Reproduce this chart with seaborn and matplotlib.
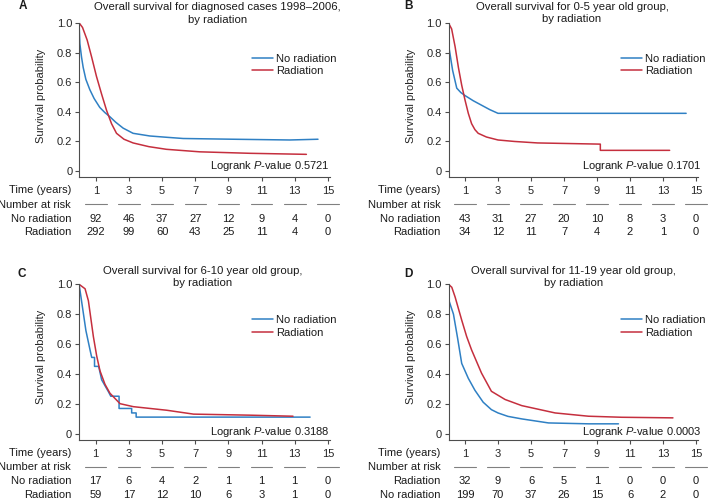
import numpy as np
import pandas as pd
import matplotlib
matplotlib.use("Agg")
import matplotlib.pyplot as plt
import matplotlib.transforms as mtransforms
import seaborn as sns

# survival curves (time in years, survival probability)
a_no_t = [0, 0.04, 0.14, 0.24, 0.4, 0.64, 0.9, 1.24, 1.55, 1.85, 2.2, 2.65, 3.25, 4.26, 5.3, 6.27, 9.3, 12.7, 14.4]
a_no_s = [0.975, 0.86, 0.77, 0.70, 0.62, 0.55, 0.49, 0.43, 0.395, 0.367, 0.33, 0.29, 0.255, 0.237, 0.228, 0.22, 0.215, 0.21, 0.215]
a_rad_t = [0, 0.2, 0.48, 0.75, 1.04, 1.35, 1.65, 1.95, 2.25, 2.7, 3.25, 4.2, 5.26, 7.27, 10.3, 13.7]
a_rad_s = [1.0, 0.97, 0.885, 0.77, 0.64, 0.52, 0.41, 0.32, 0.255, 0.215, 0.19, 0.165, 0.147, 0.13, 0.12, 0.113]

b_no_t = [0.05, 0.25, 0.5, 0.75, 1.0, 1.5, 2.0, 2.5, 3.0, 14.4]
b_no_s = [0.82, 0.68, 0.56, 0.53, 0.51, 0.475, 0.445, 0.415, 0.39, 0.39]
b_rad_t = [0, 0.19, 0.4, 0.6, 0.8, 1.0, 1.2, 1.4, 1.6, 1.8, 2.3, 3.0, 4.0, 5.4, 9.2, 9.2, 13.4]
b_rad_s = [1.0, 0.96, 0.84, 0.70, 0.58, 0.48, 0.39, 0.32, 0.28, 0.255, 0.23, 0.21, 0.20, 0.19, 0.182, 0.14, 0.14]

c_no_t = [0, 0.41, 0.66, 0.76, 0.93, 0.93, 1.18, 1.36, 1.77, 1.91, 2.41, 2.41, 3.17, 3.17, 3.44, 3.44, 13.93]
c_no_s = [1.0, 0.69, 0.56, 0.51, 0.51, 0.45, 0.45, 0.36, 0.28, 0.25, 0.25, 0.168, 0.168, 0.138, 0.138, 0.11, 0.11]
c_rad_t = [0, 0.36, 0.56, 0.86, 1.06, 1.26, 1.56, 1.86, 2.47, 3.27, 5.29, 6.9, 10.3, 12.9]
c_rad_s = [1.0, 0.97, 0.89, 0.65, 0.52, 0.42, 0.33, 0.27, 0.20, 0.18, 0.156, 0.13, 0.123, 0.116]

d_no_t = [0, 0.3, 0.55, 0.8, 1.2, 1.6, 2.1, 2.6, 3.0, 3.6, 4.44, 6.06, 8.5, 10.3]
d_no_s = [0.90, 0.80, 0.64, 0.47, 0.37, 0.29, 0.21, 0.16, 0.138, 0.115, 0.098, 0.071, 0.065, 0.065]
d_rad_t = [0, 0.2, 0.4, 0.8, 1.1, 1.4, 2.0, 2.6, 3.43, 4.44, 6.46, 8.48, 10.5, 13.6]
d_rad_s = [1.0, 0.98, 0.915, 0.76, 0.65, 0.56, 0.405, 0.283, 0.228, 0.187, 0.138, 0.116, 0.109, 0.105]

# number at risk tables
risk_times = [1, 3, 5, 7, 9, 11, 13, 15]
a_risk = [("No radiation", [92, 46, 37, 27, 12, 9, 4, 0]), ("Radiation", [292, 99, 60, 43, 25, 11, 4, 0])]
b_risk = [("No radiation", [43, 31, 27, 20, 10, 8, 3, 0]), ("Radiation", [34, 12, 11, 7, 4, 2, 1, 0])]
c_risk = [("No radiation", [17, 6, 4, 2, 1, 1, 1, 0]), ("Radiation", [59, 17, 12, 10, 6, 3, 1, 0])]
d_risk = [("Radiation", [32, 9, 6, 5, 1, 0, 0, 0]), ("No radiation", [199, 70, 37, 26, 15, 6, 2, 0])]

titles = ["Overall survival for diagnosed cases 1998\u20132006,\nby radiation",
          "Overall survival for 0-5 year old group,\nby radiation",
          "Overall survival for 6-10 year old group,\nby radiation",
          "Overall survival for 11-19 year old group,\nby radiation"]
pvalues = ["0.5721", "0.1701", "0.3188", "0.0003"]
letters = ["A", "B", "C", "D"]

BLUE = "#2f80c4"
RED = "#c52f3e"
AXC = "#4d4d4d"

sns.set_style("ticks")
plt.rcParams["font.family"] = ["Liberation Sans", "DejaVu Sans"]
plt.rcParams["font.size"] = 8
plt.rcParams["mathtext.fontset"] = "custom"
plt.rcParams["mathtext.rm"] = "Liberation Sans"
plt.rcParams["mathtext.it"] = "Liberation Sans:italic"
plt.rcParams["text.color"] = "#1a1a1a"

W, H = 709, 498
fig = plt.figure(figsize=(W / 100, H / 100), dpi=100)


def add_ax(left, top, right, bottom):
    return fig.add_axes([left / W, 1 - bottom / H, (right - left) / W, (bottom - top) / H])


boxes = [(79.2, 23, 329.6, 177), (448.5, 23, 697.7, 177),
         (79.1, 284.3, 329.5, 439.5), (448.5, 284.3, 697.7, 439.5)]
title_pos = [(217.5, 13.5), (572, 12.7), (202.5, 276.7), (573.8, 276.7)]
letter_pos = [(18.3, 6.3), (404.3, 6.3), (17.3, 274), (404.3, 274)]
pval_pos = [(1.0, 0.073), (1.016, 0.073), (1.0, 0.046), (1.016, 0.05)]
curves = [(a_no_t, a_no_s, a_rad_t, a_rad_s), (b_no_t, b_no_s, b_rad_t, b_rad_s),
          (c_no_t, c_no_s, c_rad_t, c_rad_s), (d_no_t, d_no_s, d_rad_t, d_rad_s)]
risks = [a_risk, b_risk, c_risk, d_risk]

for i in range(4):
    ax = add_ax(*boxes[i])
    ax_h = boxes[i][3] - boxes[i][1]
    ax_w = boxes[i][2] - boxes[i][0]
    no_t, no_s, rad_t, rad_s = curves[i]
    df = pd.concat([
        pd.DataFrame({"time": no_t, "surv": no_s, "group": "No radiation"}),
        pd.DataFrame({"time": rad_t, "surv": rad_s, "group": "Radiation"}),
    ], ignore_index=True)
    sns.lineplot(data=df, x="time", y="surv", hue="group",
                 hue_order=["No radiation", "Radiation"], palette=[BLUE, RED],
                 estimator=None, sort=False, lw=1.1, ax=ax)

    ax.set_xlim(0, 15.1)
    ax.set_ylim(-0.04, 1.0)
    ax.set_xticks(risk_times)
    ax.set_yticks([0, 0.2, 0.4, 0.6, 0.8, 1.0])
    ax.set_yticklabels(["0", "0.2", "0.4", "0.6", "0.8", "1.0"])
    ax.set_xlabel("")
    ax.set_ylabel("Survival probability")
    ax.yaxis.set_label_coords(-33 / ax_w, 0.53)
    sns.despine(ax=ax)
    for s in ["left", "bottom"]:
        ax.spines[s].set_color(AXC)
        ax.spines[s].set_linewidth(0.8)
    ax.tick_params(axis="both", length=3, width=0.8, color=AXC, labelsize=8)
    ax.tick_params(axis="y", pad=2)
    ax.tick_params(axis="x", pad=3.5)

    ax.legend(frameon=False, loc="upper left", bbox_to_anchor=(172.5 / ax_w, 0.80),
              borderpad=0, borderaxespad=0, handlelength=1.9,
              handletextpad=0.3, labelspacing=0.2, fontsize=8)

    ax.text(pval_pos[i][0], pval_pos[i][1], r"Logrank $P$-value " + pvalues[i],
            transform=ax.transAxes, ha="right", va="center", fontsize=8)

    fig.text(title_pos[i][0] / W, 1 - title_pos[i][1] / H, titles[i],
             ha="center", va="center", linespacing=1.3, fontsize=8.2)
    fig.text(letter_pos[i][0] / W, 1 - letter_pos[i][1] / H, letters[i],
             ha="left", va="center", fontsize=8.5, fontweight="bold")

    # number at risk table
    k = 0.72
    ax.annotate("Time (years)", xy=(0, 0), xycoords="axes fraction",
                xytext=(-8 * k, -13 * k), textcoords="offset points",
                ha="right", va="center", fontsize=8)
    ax.annotate("Number at risk", xy=(0, 0), xycoords="axes fraction",
                xytext=(-8 * k, -27.5 * k), textcoords="offset points",
                ha="right", va="center", fontsize=8)
    trans = mtransforms.blended_transform_factory(ax.transData, ax.transAxes)
    for t in risk_times:
        ax.plot([t - 0.65, t + 0.65], [-27.5 / ax_h, -27.5 / ax_h], color="#808080",
                lw=0.8, transform=trans, clip_on=False)
    for r, (name, vals) in enumerate(risks[i]):
        off = 41.5 + 13.5 * r
        ax.annotate(name, xy=(0, 0), xycoords="axes fraction",
                    xytext=(-8 * k, -off * k), textcoords="offset points",
                    ha="right", va="center", fontsize=8)
        for t, v in zip(risk_times, vals):
            ax.annotate(str(v), xy=(t, 0), xycoords=("data", "axes fraction"),
                        xytext=(0, -off * k), textcoords="offset points",
                        ha="center", va="center", fontsize=8)

fig.savefig("out.png", dpi=100)
